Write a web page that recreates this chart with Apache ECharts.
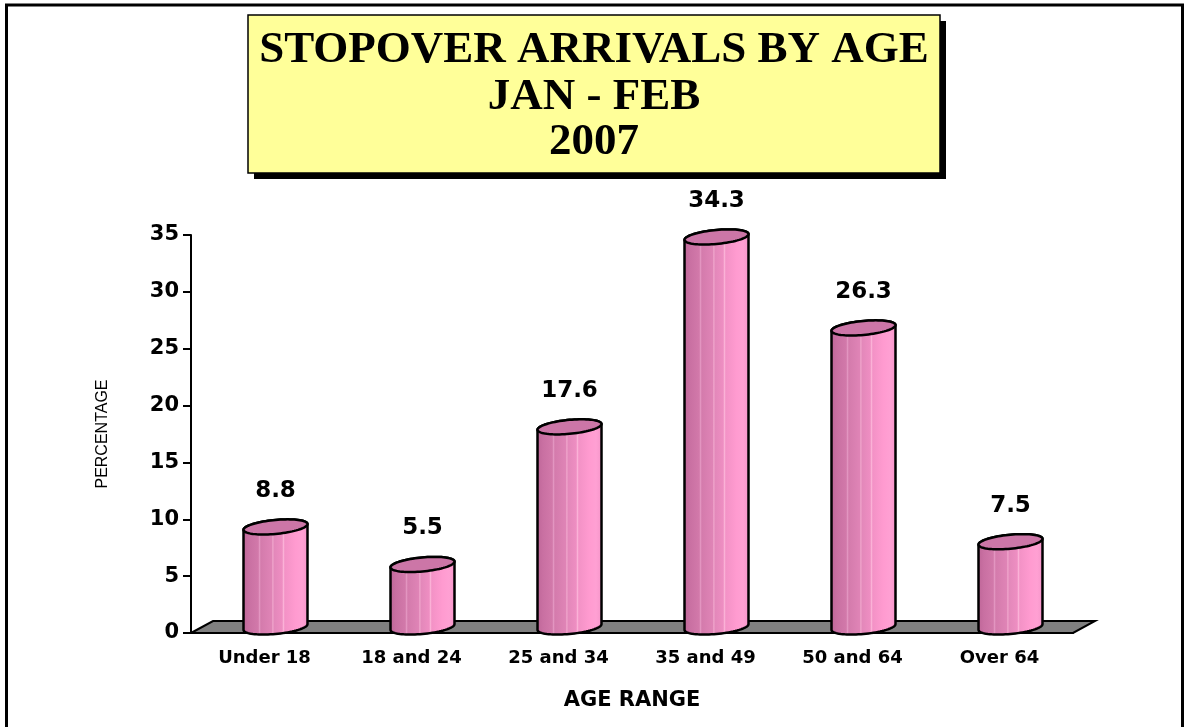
<!DOCTYPE html>
<html>
<head>
<meta charset="utf-8">
<script src="https://cdn.jsdelivr.net/npm/echarts@6/dist/echarts.min.js"></script>
<style>
  html, body { margin: 0; padding: 0; background: #fff; }
  #chart { width: 1186px; height: 727px; }
</style>
</head>
<body>
<div id="chart"></div>
<script>
(function () {
  const categories = ["Under 18", "18 and 24", "25 and 34", "35 and 49", "50 and 64", "Over 64"];
  const percentages = [8.8, 5.5, 17.6, 34.3, 26.3, 7.5];
  const titleLines = ["STOPOVER ARRIVALS BY AGE", "JAN - FEB", "2007"];
  const yTicks = { min: 0, max: 35, step: 5 };

  // 3D look: depth of the floor and cylinder shape
  const DEPTH_X = 22;
  const DEPTH_Y = -12;
  const RX = 32;
  const RY = 7;
  const TILT = 0.09;
  const labelFont = '"DejaVu Sans", "Liberation Sans", Arial, sans-serif';

  const bodyFill = {
    type: "linear", x: 0, y: 0, x2: 1, y2: 0,
    colorStops: [
      { offset: 0, color: "#bd6597" },
      { offset: 0.1, color: "#c970a2" },
      { offset: 0.24, color: "#d279aa" },
      { offset: 0.26, color: "#e396c1" },
      { offset: 0.28, color: "#d47bac" },
      { offset: 0.44, color: "#df84b6" },
      { offset: 0.46, color: "#f0a6cc" },
      { offset: 0.48, color: "#e388ba" },
      { offset: 0.6, color: "#ee8ec2" },
      { offset: 0.62, color: "#fbb2d7" },
      { offset: 0.64, color: "#f392c6" },
      { offset: 0.8, color: "#ff9bd0" },
      { offset: 0.9, color: "#ffa0d3" },
      { offset: 1, color: "#f494c8" }
    ]
  };

  function ellipsePoint(cx, cy, t) {
    const dx = RX * Math.cos(t);
    return [cx + dx, cy + RY * Math.sin(t) - dx * TILT];
  }

  function renderCylinder(params, api) {
    const top = api.coord([api.value(0), api.value(1)]);
    const base = api.coord([api.value(0), 0]);
    const cx = top[0] + DEPTH_X / 2;
    const topY = top[1] + DEPTH_Y / 2;
    const botY = base[1] + DEPTH_Y / 2;
    const steps = 40;

    const body = [];
    for (let i = 0; i <= steps; i++) body.push(ellipsePoint(cx, botY, Math.PI * i / steps));
    for (let i = 0; i <= steps; i++) body.push(ellipsePoint(cx, topY, Math.PI + Math.PI * i / steps));

    const cap = [];
    for (let i = 0; i < steps * 2; i++) cap.push(ellipsePoint(cx, topY, Math.PI * i / steps));

    return {
      type: "group",
      children: [
        {
          type: "polygon",
          shape: { points: body },
          style: { fill: bodyFill, stroke: "#000", lineWidth: 2.5 }
        },
        {
          type: "polygon",
          shape: { points: cap },
          style: { fill: "#cc76a7", stroke: "#000", lineWidth: 2.5 }
        },
        {
          type: "text",
          style: {
            text: api.value(1).toFixed(1),
            x: cx,
            y: topY - 36,
            textAlign: "center",
            textVerticalAlign: "middle",
            font: "bold 23px " + labelFont,
            fill: "#000"
          }
        }
      ]
    };
  }

  function renderFloor(params) {
    const g = params.coordSys;
    const y0 = g.y + g.height;
    return {
      type: "polygon",
      shape: {
        points: [
          [g.x, y0],
          [g.x + DEPTH_X, y0 + DEPTH_Y],
          [g.x + g.width + DEPTH_X, y0 + DEPTH_Y],
          [g.x + g.width, y0]
        ]
      },
      style: { fill: "#808080", stroke: "#000", lineWidth: 2 }
    };
  }

  const titleFont = 'bold 45px "Liberation Serif", "Times New Roman", serif';
  const titleY = [50, 97, 142];

  const chart = echarts.init(document.getElementById("chart"), null, { renderer: "canvas" });

  chart.setOption({
    animation: false,
    backgroundColor: "#fff",
    grid: { left: 191, right: 113, top: 235, bottom: 94 },
    xAxis: {
      type: "category",
      data: categories,
      axisLine: { lineStyle: { color: "#000", width: 2 } },
      axisTick: { length: 8, lineStyle: { color: "#000", width: 2 } },
      axisLabel: { color: "#000", fontFamily: labelFont, fontWeight: "bold", fontSize: 18, margin: 16 },
      name: "AGE RANGE",
      nameLocation: "middle",
      nameGap: 57,
      nameTextStyle: { color: "#000", fontFamily: labelFont, fontWeight: "bold", fontSize: 21 }
    },
    yAxis: {
      type: "value",
      min: yTicks.min,
      max: yTicks.max,
      interval: yTicks.step,
      splitLine: { show: false },
      axisLine: { show: true, lineStyle: { color: "#000", width: 2 } },
      axisTick: { show: true, length: 8, lineStyle: { color: "#000", width: 2 } },
      axisLabel: { color: "#000", fontFamily: labelFont, fontWeight: "bold", fontSize: 21, margin: 12 },
      name: "PERCENTAGE",
      nameLocation: "middle",
      nameGap: 80,
      nameTextStyle: { color: "#000", fontFamily: '"Liberation Sans", Arial, sans-serif', fontSize: 16 }
    },
    series: [
      {
        type: "custom",
        renderItem: renderFloor,
        data: [0],
        z: 1,
        silent: true
      },
      {
        type: "custom",
        renderItem: renderCylinder,
        data: categories.map((c, i) => [i, percentages[i]]),
        encode: { x: 0, y: 1 },
        z: 3
      }
    ],
    graphic: [
      {
        type: "rect",
        shape: { x: 6.5, y: 5, width: 1176, height: 740 },
        style: { fill: "none", stroke: "#000", lineWidth: 3 },
        silent: true
      },
      {
        type: "rect",
        shape: { x: 254, y: 21, width: 692, height: 158 },
        style: { fill: "#000" },
        silent: true
      },
      {
        type: "rect",
        shape: { x: 248, y: 15, width: 692, height: 158 },
        style: { fill: "#ffff99", stroke: "#000", lineWidth: 1.5 },
        silent: true
      }
    ].concat(titleLines.map((line, i) => ({
      type: "text",
      x: 594,
      y: titleY[i],
      style: {
        text: line,
        textAlign: "center",
        textVerticalAlign: "middle",
        font: titleFont,
        fill: "#000"
      },
      silent: true
    })))
  });

  window.addEventListener("resize", () => chart.resize());
})();
</script>
</body>
</html>
